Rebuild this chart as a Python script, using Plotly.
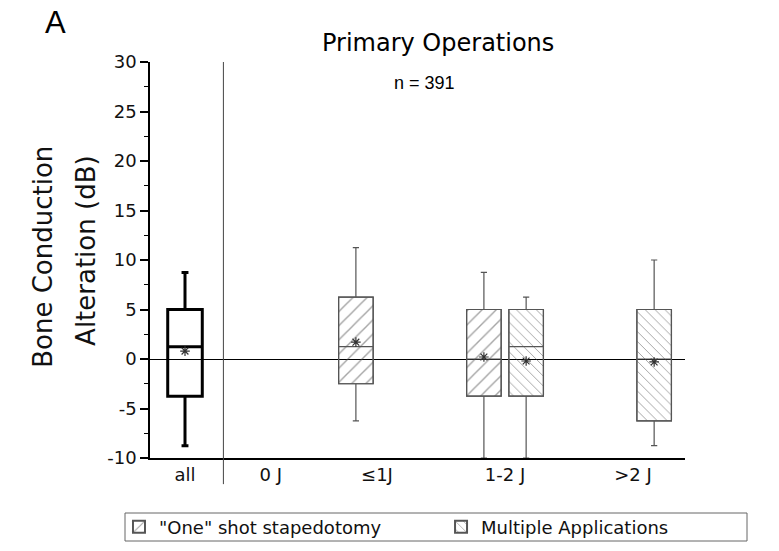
import plotly.graph_objects as go

# ---- data -----------------------------------------------------------------
categories = ["all", "0 J", "≤1J", "1-2 J", ">2 J"]
y_ticks = [-10, -5, 0, 5, 10, 15, 20, 25, 30]
y_ticktext = ["-10", "-5", "0", "5", "10", "15", "20", "25", "30"]

# overall distribution (all primary operations)
all_stats = {"low": -8.75, "q1": -3.75, "med": 1.25, "q3": 5.0, "high": 8.75, "mean": 0.8}

# "One" shot stapedotomy: groups ≤1J and 1-2 J
oneshot_groups = ["≤1J", "1-2 J"]
oneshot_low = [-6.25, -10.0]
oneshot_q1 = [-2.5, -3.75]
oneshot_med = [1.25, 0.0]
oneshot_q3 = [6.25, 5.0]
oneshot_high = [11.25, 8.75]
oneshot_mean = [1.7, 0.2]

# Multiple applications: groups 1-2 J and >2 J
multi_groups = ["1-2 J", ">2 J"]
multi_low = [-10.0, -8.75]
multi_q1 = [-3.75, -6.25]
multi_med = [1.25, 0.0]
multi_q3 = [5.0, 5.0]
multi_high = [6.25, 10.0]
multi_mean = [-0.2, -0.3]

# ---- category positions on a numeric axis ---------------------------------
cat_pos = {"all": 0.5, "0 J": 1.17, "≤1J": 2.0, "1-2 J": 3.0, ">2 J": 4.0}
offset = 0.165
box_w = 0.27
sep_x = 0.8

FONT = "DejaVu Sans"
EDGE = "#555555"
HATCH = "#4a4a4a"

fig = go.Figure()

# "all" box: heavy black outline
fig.add_trace(go.Box(
    x=[cat_pos["all"]], q1=[all_stats["q1"]], median=[all_stats["med"]],
    q3=[all_stats["q3"]], lowerfence=[all_stats["low"]], upperfence=[all_stats["high"]],
    width=box_w, whiskerwidth=0.2, fillcolor="rgba(0,0,0,0)",
    line=dict(color="black", width=3), showlegend=False, hoverinfo="skip",
))


def hatched_group(groups, low, q1, med, q3, high, shift, shape, size, name, legend):
    xs = [cat_pos[g] + shift for g in groups]
    # hatch fill between the quartiles
    fig.add_trace(go.Bar(
        x=xs, base=q1, y=[b - a for a, b in zip(q1, q3)], width=box_w,
        marker=dict(color="rgba(0,0,0,0)",
                    line=dict(color=EDGE, width=1.2),
                    pattern=dict(shape=shape, fgcolor=HATCH, size=size,
                                 solidity=0.14, fillmode="overlay")),
        name=name, showlegend=True, legend=legend, hoverinfo="skip",
    ))
    for x, lo, a, m, b, hi in zip(xs, low, q1, med, q3, high):
        fig.add_trace(go.Box(
            x=[x], q1=[a], median=[m], q3=[b], lowerfence=[lo], upperfence=[hi],
            width=box_w, whiskerwidth=0.18, fillcolor="rgba(0,0,0,0)",
            line=dict(color=EDGE, width=1.2), showlegend=False, hoverinfo="skip",
        ))
    return xs


one_x = hatched_group(oneshot_groups, oneshot_low, oneshot_q1, oneshot_med,
                      oneshot_q3, oneshot_high, -offset, "/", 10,
                      "\"One\" shot stapedotomy", "legend")
multi_x = hatched_group(multi_groups, multi_low, multi_q1, multi_med,
                        multi_q3, multi_high, offset, "\\", 7,
                        "Multiple Applications", "legend2")

# mean markers
fig.add_trace(go.Scatter(
    x=[cat_pos["all"]] + one_x + multi_x,
    y=[all_stats["mean"]] + oneshot_mean + multi_mean,
    mode="markers",
    marker=dict(symbol="asterisk-open", size=8, color="#333333",
                line=dict(color="#333333", width=1.2)),
    showlegend=False, hoverinfo="skip",
))

# divider between "all" and the energy groups
fig.add_shape(type="line", xref="x", yref="paper", x0=sep_x, x1=sep_x,
              y0=-0.066, y1=1.0, line=dict(color="#444444", width=1))

# frame around both legend entries
fig.add_shape(type="rect", xref="paper", yref="paper",
              x0=-0.0467, x1=1.1159, y0=-0.2096, y1=-0.1389,
              line=dict(color="#666666", width=1), fillcolor="rgba(0,0,0,0)")

fig.add_annotation(text="A", xref="paper", yref="paper", x=-0.176, y=1.101,
                   xanchor="center", yanchor="middle", showarrow=False,
                   font=dict(family="Liberation Sans", size=31, color="black"))
fig.add_annotation(text="Primary Operations", xref="paper", yref="paper",
                   x=0.538, y=1.048, xanchor="center", yanchor="middle",
                   showarrow=False, font=dict(family=FONT, size=24, color="black"))
fig.add_annotation(text="n = 391", xref="paper", yref="paper",
                   x=0.514, y=0.947, xanchor="center", yanchor="middle",
                   showarrow=False, font=dict(family="Liberation Sans", size=18, color="black"))
fig.add_annotation(text="Bone Conduction", xref="paper", yref="paper",
                   x=-0.2, y=0.508, xanchor="center", yanchor="middle",
                   textangle=-90, showarrow=False,
                   font=dict(family=FONT, size=26, color="#111111"))
fig.add_annotation(text="Alteration (dB)", xref="paper", yref="paper",
                   x=-0.12, y=0.525, xanchor="center", yanchor="middle",
                   textangle=-90, showarrow=False,
                   font=dict(family=FONT, size=26, color="#111111"))

legend_common = dict(orientation="h", yanchor="middle", y=-0.1745, xanchor="left",
                     borderwidth=0, bgcolor="rgba(0,0,0,0)",
                     font=dict(family=FONT, size=18, color="#111111"),
                     itemsizing="constant")

fig.update_layout(
    width=779, height=551,
    margin=dict(l=150, r=94, t=62, b=93, autoexpand=False),
    paper_bgcolor="white", plot_bgcolor="white",
    barmode="overlay", boxmode="overlay",
    font=dict(family=FONT, color="#111111"),
    showlegend=True,
    legend=dict(x=-0.058, **legend_common),
    legend2=dict(x=0.544, **legend_common),
    xaxis=dict(range=[0.2266, 4.406], tickvals=[cat_pos[c] for c in categories],
               ticktext=categories, showgrid=False, zeroline=False,
               showline=True, linecolor="black", linewidth=1.5, ticks="",
               tickfont=dict(family=FONT, size=18, color="#111111")),
    yaxis=dict(range=[-10, 30], tickvals=y_ticks, ticktext=y_ticktext,
               showgrid=False, zeroline=True, zerolinecolor="black", zerolinewidth=1.3,
               showline=True, linecolor="black", linewidth=1.5,
               ticks="outside", ticklen=8, tickwidth=1.5, tickcolor="black",
               minor=dict(dtick=2.5, ticks="outside", ticklen=4, tickwidth=1.2,
                          tickcolor="black"),
               tickfont=dict(family=FONT, size=18, color="#111111")),
)

fig.write_html("out.html")
